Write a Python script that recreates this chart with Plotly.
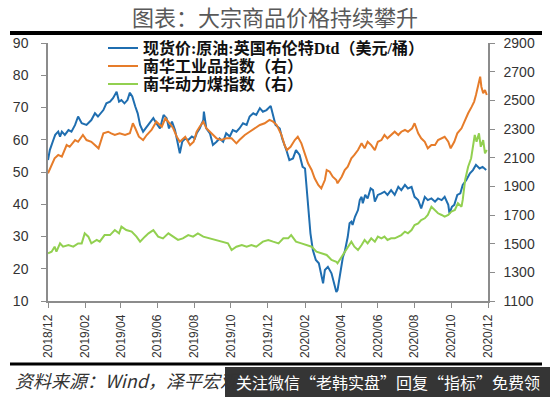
import plotly.graph_objects as go

# ---------------- data ----------------
brent_dates = [
    "2018-12-01","2018-12-04","2018-12-10","2018-12-13","2018-12-18","2018-12-21","2018-12-24","2018-12-29",
    "2019-01-04","2019-01-09","2019-01-15","2019-01-20","2019-01-26","2019-02-03","2019-02-11","2019-02-17",
    "2019-02-22","2019-03-03","2019-03-08","2019-03-14","2019-03-19","2019-03-25","2019-03-29","2019-04-02",
    "2019-04-07","2019-04-12","2019-04-16","2019-04-20","2019-04-25","2019-04-29","2019-05-03","2019-05-08",
    "2019-05-14","2019-05-19","2019-05-25","2019-05-30","2019-06-05","2019-06-11","2019-06-16","2019-06-20",
    "2019-06-25","2019-06-30","2019-07-04","2019-07-08","2019-07-12","2019-07-17","2019-07-22","2019-07-28",
    "2019-08-02","2019-08-05","2019-08-10","2019-08-16","2019-08-17","2019-08-21","2019-08-27","2019-09-01",
    "2019-09-07","2019-09-12","2019-09-18","2019-09-23","2019-09-29","2019-10-04","2019-10-10","2019-10-15",
    "2019-10-21","2019-10-27","2019-11-01","2019-11-07","2019-11-12","2019-11-18","2019-11-23","2019-11-29",
    "2019-12-06","2019-12-10","2019-12-14","2019-12-21","2019-12-25","2020-01-01","2020-01-06","2020-01-12",
    "2020-01-17","2020-01-23","2020-01-28","2020-02-01","2020-02-03","2020-02-06","2020-02-10","2020-02-14",
    "2020-02-19","2020-02-24","2020-02-28","2020-03-02","2020-03-05","2020-03-10","2020-03-16","2020-03-20",
    "2020-03-24","2020-03-26","2020-03-30","2020-04-02","2020-04-04","2020-04-07","2020-04-10","2020-04-12",
    "2020-04-15","2020-04-18","2020-04-20","2020-04-24","2020-04-29","2020-05-02","2020-05-05","2020-05-07",
    "2020-05-11","2020-05-15","2020-05-20","2020-05-24","2020-05-27","2020-06-01","2020-06-07","2020-06-12",
    "2020-06-17","2020-06-23","2020-06-29","2020-07-05","2020-07-10","2020-07-16","2020-07-21","2020-07-27",
    "2020-08-01","2020-08-07","2020-08-12","2020-08-18","2020-08-23","2020-08-29","2020-09-04","2020-09-09",
    "2020-09-15","2020-09-20","2020-09-26","2020-09-28","2020-10-02","2020-10-06","2020-10-11","2020-10-16",
    "2020-10-20","2020-10-26","2020-11-01","2020-11-06","2020-11-11","2020-11-17","2020-11-22","2020-11-28",
]
brent_values = [
    53.7,56.8,60.0,61.5,62.5,61.0,62.5,61.5,
    63.0,62.5,64.6,67.2,65.1,64.6,66.1,68.2,
    67.2,69.2,71.3,71.8,72.9,74.9,71.8,72.3,
    71.3,72.3,74.6,73.4,70.3,68.2,64.6,62.5,
    64.0,65.1,66.7,65.1,63.5,67.7,66.7,63.5,
    65.6,63.0,59.4,55.8,59.4,60.4,59.9,61.0,
    60.4,62.0,63.5,66.1,68.7,63.5,62.0,58.4,
    59.4,60.4,59.4,62.0,61.0,63.0,62.5,63.5,
    65.1,64.6,67.2,68.2,67.7,69.8,68.7,69.2,
    70.5,67.2,64.6,63.5,60.4,56.8,53.7,54.2,
    56.8,55.3,51.6,51.1,46.5,38.2,31.0,25.8,
    22.7,21.7,18.6,15.5,19.6,20.6,18.6,15.5,
    12.8,13.4,17.5,21.7,23.7,25.3,27.9,29.9,
    34.1,34.6,33.6,36.1,38.2,41.3,42.3,40.3,
    42.9,41.8,44.9,44.4,40.8,42.9,43.4,43.9,
    42.9,44.4,42.9,45.4,44.4,46.0,44.9,45.4,
    42.3,41.3,38.7,42.3,41.3,41.8,40.8,41.8,
    41.3,42.3,39.8,37.2,39.2,39.8,42.9,43.4,
    46.0,47.5,49.6,50.6,52.2,51.1,51.6,50.6,
]

industrial_dates = [
    "2018-12-01","2018-12-07","2018-12-12","2018-12-18","2018-12-24","2019-01-01","2019-01-06","2019-01-15",
    "2019-01-20","2019-01-28","2019-02-03","2019-02-11","2019-02-17","2019-02-23","2019-03-03","2019-03-11",
    "2019-03-16","2019-03-22","2019-03-30","2019-04-08","2019-04-16","2019-04-21","2019-04-25","2019-05-01",
    "2019-05-08","2019-05-14","2019-05-22","2019-05-30","2019-06-08","2019-06-14","2019-06-21","2019-06-27",
    "2019-07-03","2019-07-08","2019-07-17","2019-07-25","2019-07-31","2019-08-05","2019-08-10","2019-08-16",
    "2019-08-21","2019-08-30","2019-09-07","2019-09-15","2019-09-23","2019-10-02","2019-10-10","2019-10-15",
    "2019-10-24","2019-11-01","2019-11-09","2019-11-18","2019-11-26","2019-12-04","2019-12-10","2019-12-16",
    "2019-12-24","2019-12-29","2020-01-02","2020-01-08","2020-01-15","2020-01-20","2020-01-26","2020-02-01",
    "2020-02-06","2020-02-12","2020-02-17","2020-02-23","2020-02-28","2020-03-05","2020-03-08","2020-03-13",
    "2020-03-18","2020-03-24","2020-03-26","2020-04-02","2020-04-07","2020-04-12","2020-04-18","2020-04-23",
    "2020-04-29","2020-05-05","2020-05-10","2020-05-15","2020-05-21","2020-05-27","2020-06-01","2020-06-07",
    "2020-06-12","2020-06-17","2020-06-23","2020-06-29","2020-07-05","2020-07-10","2020-07-16","2020-07-21",
    "2020-07-28","2020-08-01","2020-08-07","2020-08-12","2020-08-18","2020-08-23","2020-08-29","2020-09-04",
    "2020-09-09","2020-09-15","2020-09-20","2020-09-26","2020-09-30","2020-10-06","2020-10-11","2020-10-18",
    "2020-10-24","2020-10-29","2020-11-04","2020-11-08","2020-11-11","2020-11-15","2020-11-18","2020-11-20",
    "2020-11-23","2020-11-26","2020-11-29",
]
industrial_values = [
    1991,2049,2096,2119,2107,2188,2176,2223,
    2211,2258,2223,2211,2188,2165,2270,2281,
    2270,2258,2270,2258,2270,2340,2305,2246,
    2223,2258,2293,2351,2316,2375,2340,2305,
    2246,2211,2246,2188,2211,2281,2316,2351,
    2305,2270,2235,2223,2235,2235,2200,2223,
    2258,2281,2305,2328,2340,2363,2351,2328,
    2258,2188,2153,2176,2223,2246,2200,2130,
    2061,2014,1956,1909,1886,1944,2014,2002,
    1967,1944,1921,1967,2014,2037,2096,2119,
    2153,2200,2165,2211,2188,2153,2211,2223,
    2258,2235,2258,2281,2258,2281,2293,2281,
    2305,2340,2270,2235,2211,2165,2188,2188,
    2223,2235,2246,2211,2165,2211,2270,2305,
    2363,2410,2456,2491,2537,2619,2665,2595,
    2549,2572,2537,
]

coal_dates = [
    "2018-12-01","2018-12-07","2018-12-12","2018-12-15","2018-12-21","2018-12-26","2019-01-04","2019-01-12",
    "2019-01-20","2019-01-26","2019-01-31","2019-02-06","2019-02-11","2019-02-20","2019-02-25","2019-03-05",
    "2019-03-14","2019-03-22","2019-03-29","2019-04-02","2019-04-10","2019-04-19","2019-04-27","2019-05-03",
    "2019-05-11","2019-05-17","2019-05-25","2019-06-02","2019-06-10","2019-06-19","2019-06-27","2019-07-05",
    "2019-07-13","2019-07-22","2019-07-30","2019-08-02","2019-08-07","2019-08-16","2019-08-27","2019-09-07",
    "2019-09-18","2019-09-26","2019-10-02","2019-10-10","2019-10-19","2019-10-27","2019-11-04","2019-11-12",
    "2019-11-23","2019-12-02","2019-12-10","2019-12-19","2019-12-27","2020-01-04","2020-01-09","2020-01-17",
    "2020-01-26","2020-02-03","2020-02-12","2020-02-20","2020-02-28","2020-03-08","2020-03-16","2020-03-24",
    "2020-03-26","2020-04-02","2020-04-07","2020-04-12","2020-04-18","2020-04-23","2020-04-29","2020-05-05",
    "2020-05-10","2020-05-15","2020-05-21","2020-05-27","2020-06-01","2020-06-07","2020-06-12","2020-06-17",
    "2020-06-23","2020-06-29","2020-07-05","2020-07-10","2020-07-16","2020-07-21","2020-07-27","2020-08-01",
    "2020-08-07","2020-08-12","2020-08-18","2020-08-23","2020-08-29","2020-09-04","2020-09-09","2020-09-15",
    "2020-09-20","2020-09-26","2020-10-01","2020-10-07","2020-10-12","2020-10-18","2020-10-20","2020-10-24",
    "2020-10-29","2020-11-03","2020-11-06","2020-11-09","2020-11-12","2020-11-16","2020-11-19","2020-11-23",
    "2020-11-26","2020-11-29",
]
coal_values = [
    1433,1444,1479,1444,1502,1479,1491,1479,
    1502,1502,1572,1549,1502,1526,1514,1560,
    1560,1595,1572,1619,1595,1584,1549,1514,
    1549,1572,1595,1549,1537,1572,1549,1526,
    1537,1560,1549,1560,1572,1549,1537,1526,
    1514,1502,1456,1479,1491,1479,1491,1479,
    1514,1526,1514,1502,1537,1537,1560,1514,
    1502,1491,1479,1444,1433,1421,1386,1374,
    1363,1409,1444,1479,1514,1479,1456,1491,
    1526,1502,1537,1514,1549,1537,1549,1526,
    1537,1537,1549,1560,1584,1572,1595,1630,
    1642,1665,1677,1700,1758,1735,1712,1700,
    1688,1700,1723,1735,1782,1758,1805,1944,
    2037,2096,2176,2258,2211,2270,2176,2223,
    2130,2153,
]

x_tick_dates = ["2018-12-01","2019-02-01","2019-04-01","2019-06-01","2019-08-01","2019-10-01",
                "2019-12-01","2020-02-01","2020-04-01","2020-06-01","2020-08-01","2020-10-01","2020-12-01"]
x_tick_labels = ["2018/12","2019/02","2019/04","2019/06","2019/08","2019/10",
                 "2019/12","2020/02","2020/04","2020/06","2020/08","2020/10","2020/12"]

series_names = ["现货价:原油:英国布伦特Dtd（美元/桶）", "南华工业品指数（右）", "南华动力煤指数（右）"]
title_text = "图表：大宗商品价格持续攀升"
source_text = "资料来源：Wind，泽平宏观"
overlay_text = "关注微信“老韩实盘”回复“指标”免费领"

# ---------------- figure ----------------
W, H = 550, 397
ML, MR, MT, MB = 48, 62, 43, 96
PW, PH = W - ML - MR, H - MT - MB

def px_x(x):
    return (x - ML) / PW

def px_y(y):
    return (H - MB - y) / PH

CJK = "Noto Sans CJK SC"
NUM = "Liberation Sans, Arial, sans-serif"
LEG = "Liberation Serif, Noto Sans CJK SC, serif"

fig = go.Figure()
fig.add_trace(go.Scatter(x=brent_dates, y=brent_values, mode="lines", name=series_names[0],
                         line=dict(color="#1F6EB0", width=2), yaxis="y", legend="legend"))
fig.add_trace(go.Scatter(x=industrial_dates, y=industrial_values, mode="lines", name=series_names[1],
                         line=dict(color="#E67C2A", width=2), yaxis="y2", legend="legend2"))
fig.add_trace(go.Scatter(x=coal_dates, y=coal_values, mode="lines", name=series_names[2],
                         line=dict(color="#92D050", width=2), yaxis="y2", legend="legend3"))

legend_common = dict(xanchor="left", yanchor="top", x=px_x(103), bgcolor="rgba(0,0,0,0)",
                     borderwidth=0, itemwidth=30,
                     font=dict(family=LEG, size=16, color="#111111", weight="bold"))
axis_line = "#8c8c8c"
# legend row centres at about y = 48, 66, 84 px; item centre = top + 5 + (16*1.3+3)/2
row_off = 5 + (16 * 1.3 + 3) / 2

fig.update_layout(
    width=W, height=H,
    margin=dict(l=ML, r=MR, t=MT, b=MB, autoexpand=False),
    paper_bgcolor="white", plot_bgcolor="white",
    showlegend=True,
    legend=dict(y=px_y(48 - row_off), **legend_common),
    legend2=dict(y=px_y(66 - row_off), **legend_common),
    legend3=dict(y=px_y(84 - row_off), **legend_common),
    xaxis=dict(
        type="date", range=["2018-12-01", "2020-12-01"],
        tickmode="array", tickvals=x_tick_dates, ticktext=x_tick_labels,
        tickangle=-90, ticks="outside", ticklen=5, tickcolor=axis_line, tickwidth=1.2,
        showline=True, linecolor=axis_line, linewidth=1.5, showgrid=False, zeroline=False,
        tickfont=dict(family=NUM, size=12, color="#333333"), ticklabelstandoff=2,
    ),
    yaxis=dict(
        range=[10, 90], dtick=10, tick0=10, ticks="outside", ticklen=5, tickcolor=axis_line,
        showline=True, linecolor=axis_line, linewidth=1.5, showgrid=False, zeroline=False,
        tickfont=dict(family=NUM, size=14, color="#333333"), ticklabelstandoff=10,
    ),
    yaxis2=dict(
        range=[1100, 2900], dtick=200, tick0=1100, overlaying="y", side="right",
        ticks="outside", ticklen=5, tickcolor=axis_line,
        showline=True, linecolor=axis_line, linewidth=1.5, showgrid=False, zeroline=False,
        tickfont=dict(family=NUM, size=14, color="#333333"), ticklabelstandoff=6,
    ),
)

# title
fig.add_annotation(text=title_text, xref="paper", yref="paper", x=px_x(275), y=px_y(16),
                   xanchor="center", yanchor="middle", showarrow=False,
                   font=dict(family=CJK, size=22, color="#595959"))
# horizontal rules
fig.add_shape(type="line", xref="paper", yref="paper", x0=px_x(10), x1=px_x(542),
              y0=px_y(33), y1=px_y(33), line=dict(color="#000000", width=4))
fig.add_shape(type="line", xref="paper", yref="paper", x0=px_x(10), x1=px_x(542),
              y0=px_y(364), y1=px_y(364), line=dict(color="#000000", width=3))
# source
fig.add_annotation(text=source_text, xref="paper", yref="paper", x=px_x(13), y=px_y(380),
                   xanchor="left", yanchor="middle", showarrow=False,
                   font=dict(family=CJK, size=18, color="#333333", style="italic"))
# overlay banner
fig.add_shape(type="rect", xref="paper", yref="paper", x0=px_x(225), x1=px_x(552),
              y0=px_y(399), y1=px_y(367), line=dict(width=0), fillcolor="rgba(38,38,38,0.93)")
fig.add_annotation(text=overlay_text, xref="paper", yref="paper", x=px_x(388), y=px_y(382),
                   xanchor="center", yanchor="middle", showarrow=False,
                   font=dict(family=CJK, size=16, color="#ffffff"))

fig.write_html("out.html", config={"displayModeBar": False},
               post_script="document.body.style.margin='0';document.body.style.overflow='hidden';")
